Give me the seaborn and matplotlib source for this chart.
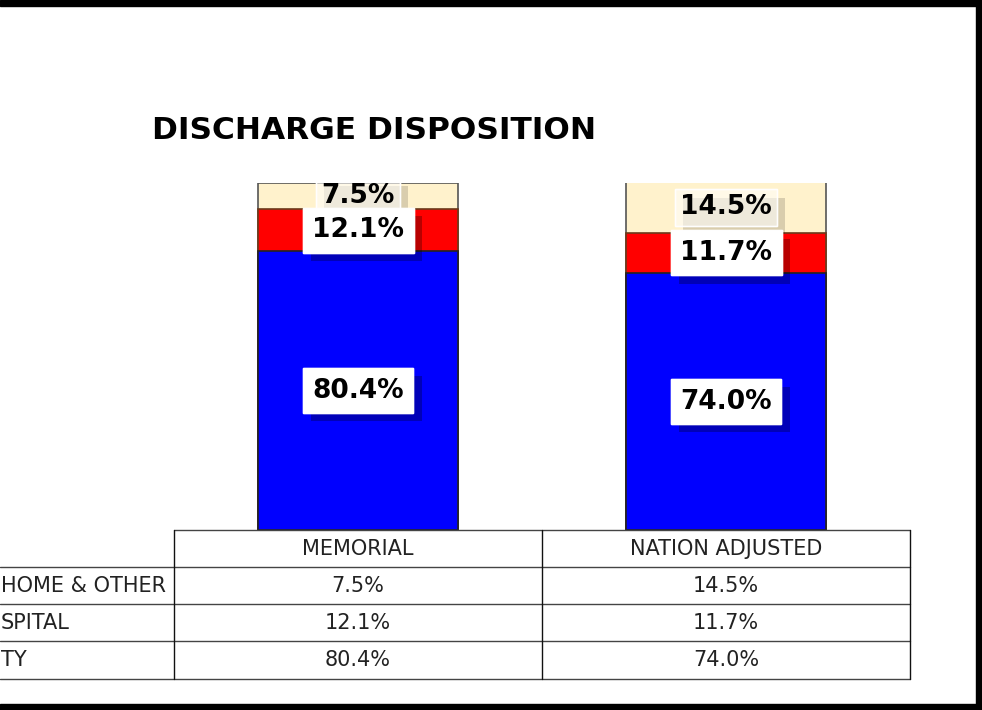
import matplotlib
matplotlib.use("Agg")
import matplotlib.pyplot as plt
import matplotlib.patheffects as pe
from matplotlib.patches import Rectangle
from matplotlib.lines import Line2D
import seaborn as sns
import pandas as pd

# ---- data ----
groups = ["MEMORIAL", "NATION ADJUSTED"]
home_other = [7.5, 14.5]
hospital = [12.1, 11.7]
facility = [80.4, 74.0]
row_labels = ["HOME & OTHER", "SPITAL", "TY"]
title = "DISCHARGE DISPOSITION"

sns.set_theme(style="white")
plt.rcParams["font.family"] = ["DejaVu Sans"]

W, H = 982, 710
fig = plt.figure(figsize=(W / 100, H / 100), dpi=100)
fig.patch.set_facecolor("white")


def fx(px):
    return px / W


def fy(py):
    return (H - py) / H


# bar axes spanning the table data columns
ax = fig.add_axes([fx(174), fy(530), fx(910) - fx(174), fy(183) - fy(530)])
ax.set_facecolor("none")

df = pd.DataFrame({
    "group": groups,
    "facility": facility,
    "hospital": hospital,
    "home": home_other,
})
df["cum_hosp"] = df["facility"] + df["hospital"]
df["cum_home"] = df["cum_hosp"] + df["home"]

bar_w = 200 / 368
sns.barplot(data=df, x="group", y="cum_home", color="#FFF2CC", width=bar_w,
            edgecolor="#555555", linewidth=1.2, saturation=1, ax=ax)
sns.barplot(data=df, x="group", y="cum_hosp", color="#FF0000", width=bar_w,
            edgecolor="#6b3a1a", linewidth=1.2, saturation=1, ax=ax)
sns.barplot(data=df, x="group", y="facility", color="#0000FF", width=bar_w,
            edgecolor="#222222", linewidth=1.2, saturation=1, ax=ax)
ax.set_xlim(-0.5, 1.5)
ax.set_ylim(0, 100)
ax.axis("off")

shadow_solid = [pe.withSimplePatchShadow(offset=(6, -6), shadow_rgbFace="black", alpha=0.28),
                pe.Normal()]
shadow_light = [pe.withSimplePatchShadow(offset=(6, -6), shadow_rgbFace="black", alpha=0.15),
                pe.Normal()]

for i in range(len(groups)):
    segs = [
        (0, facility[i], 1.0, 0.36, 6),
        (facility[i], hospital[i], 1.0, 0.36, 6),
        (facility[i] + hospital[i], home_other[i], 0.35, 0.2, 5),
    ]
    for bottom, val, a, pad, z in segs:
        t = ax.text(i, bottom + val / 2, f"{val:.1f}%", ha="center", va="center",
                    fontsize=19, fontweight="bold", color="black", zorder=z,
                    bbox=dict(boxstyle=f"square,pad={pad}", fc=(1, 1, 1, a),
                              ec=(1, 1, 1, 0.9), lw=1))
        t.get_bbox_patch().set_path_effects(shadow_solid if a == 1.0 else shadow_light)

# title
fig.text(fx(152), fy(139), title, ha="left", va="baseline", fontsize=22.5,
         fontweight="bold", color="black")

# ---- table ----
line_kw = dict(color="#444444", lw=1.0, transform=fig.transFigure)
row_edges = [530, 567, 604, 641, 679]
fig.add_artist(Line2D([fx(174), fx(910)], [fy(530), fy(530)], **line_kw))
for y in row_edges[1:]:
    fig.add_artist(Line2D([0, fx(910)], [fy(y), fy(y)], **line_kw))
for x in [174, 542, 910]:
    fig.add_artist(Line2D([fx(x), fx(x)], [fy(530), fy(679)],
                          color="#111111", lw=1.0, transform=fig.transFigure))

col_centers = [fx(358), fx(726)]
for j, g in enumerate(groups):
    fig.text(col_centers[j], fy(549), g, ha="center", va="center",
             fontsize=15, color="#222222")
rows = [home_other, hospital, facility]
row_mid = [586, 623, 660]
for r, vals in enumerate(rows):
    fig.text(fx(1), fy(row_mid[r]), row_labels[r], ha="left", va="center",
             fontsize=15, color="#222222")
    for j, v in enumerate(vals):
        fig.text(col_centers[j], fy(row_mid[r]), f"{v:.1f}%", ha="center",
                 va="center", fontsize=15, color="#222222")

# frame bands
fig.add_artist(Rectangle((0, fy(6)), 1, fy(0) - fy(6), transform=fig.transFigure,
                         color="black", zorder=10))
fig.add_artist(Rectangle((0, 0), 1, fy(704), transform=fig.transFigure,
                         color="black", zorder=10))
fig.add_artist(Rectangle((fx(976), 0), 1 - fx(976), 1, transform=fig.transFigure,
                         color="black", zorder=10))

fig.savefig("out.png", dpi=100)
